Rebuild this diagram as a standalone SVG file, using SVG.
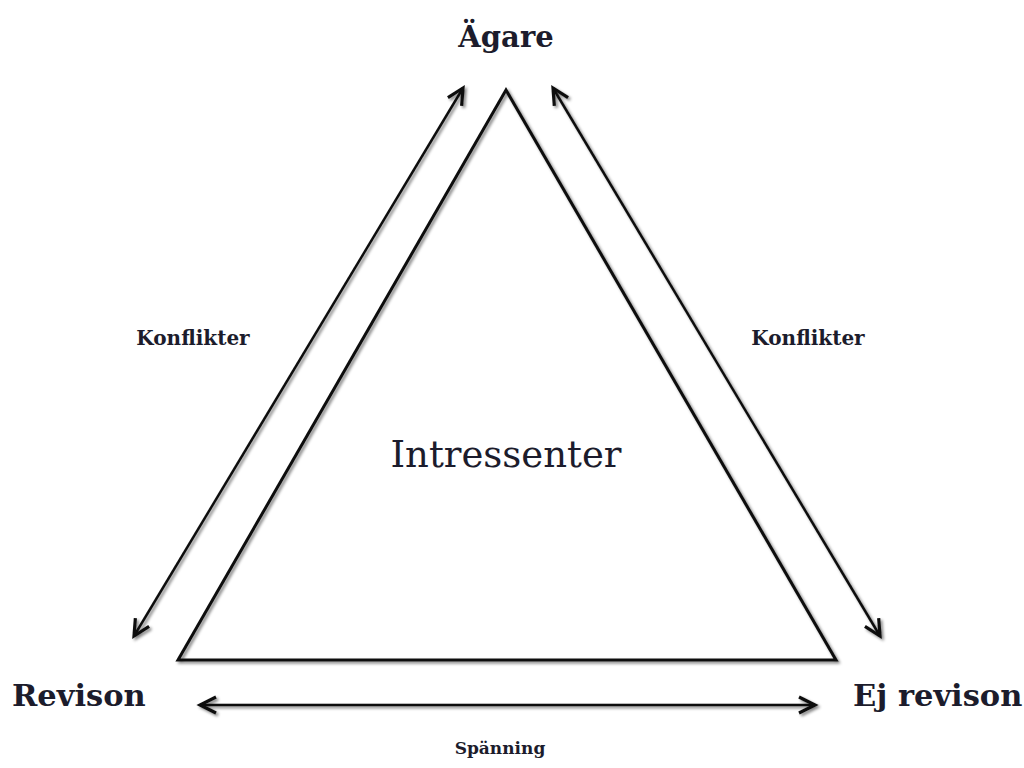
<svg xmlns="http://www.w3.org/2000/svg" width="1024" height="768" viewBox="0 0 1024 768">
<defs>
<marker id="ah" viewBox="0 0 24 24" refX="20" refY="12" markerWidth="24" markerHeight="24" markerUnits="userSpaceOnUse" orient="auto-start-reverse">
<path d="M4,4 L20,12 L4,20" fill="none" stroke="#111" stroke-width="3.2" stroke-linejoin="miter"/>
</marker>
<filter id="sh" x="-10%" y="-10%" width="120%" height="120%">
<feGaussianBlur in="SourceAlpha" stdDeviation="1.5"/>
<feOffset dx="2" dy="2" result="b"/>
<feComponentTransfer><feFuncA type="linear" slope="0.5"/></feComponentTransfer>
<feMerge><feMergeNode/><feMergeNode in="SourceGraphic"/></feMerge>
</filter>
</defs>
<style>
text{font-family:"DejaVu Serif","Liberation Serif",serif;fill:#1c1c2c}
.big{font-size:30.5px;font-weight:bold}
.top{font-size:29px;font-weight:bold}
.mid{font-size:37px}
.small{font-size:20px;font-weight:bold}
.lab{font-size:17px;font-weight:bold}
.conn{stroke:#111;stroke-width:2.5;fill:none;marker-start:url(#ah);marker-end:url(#ah)}
</style>
<rect width="1024" height="768" fill="#fff"/>
<g id="triangle" filter="url(#sh)">
<polygon points="506,90 178,660 836,660" fill="none" stroke="#111" stroke-width="3"/>
</g>
<g id="agare"><text class="top" x="506" y="47" text-anchor="middle">Ägare</text></g>
<g id="revison"><text class="big" x="12" y="706">Revison</text></g>
<g id="ejrevison"><text class="big" x="853" y="706">Ej revison</text></g>
<g id="intressenter"><text class="mid" x="506" y="467" text-anchor="middle">Intressenter</text></g>
<g id="connectors" filter="url(#sh)">
<line class="conn" x1="463" y1="88" x2="134" y2="636"/>
<line class="conn" x1="553" y1="88" x2="880" y2="636"/>
<line class="conn" x1="200" y1="705" x2="815" y2="705"/>
</g>
<g id="labels">
<text class="small" x="193" y="345" text-anchor="middle">Konflikter</text>
<text class="small" x="808" y="345" text-anchor="middle">Konflikter</text>
<text class="lab" x="500" y="754" text-anchor="middle">Spänning</text>
</g>
</svg>
